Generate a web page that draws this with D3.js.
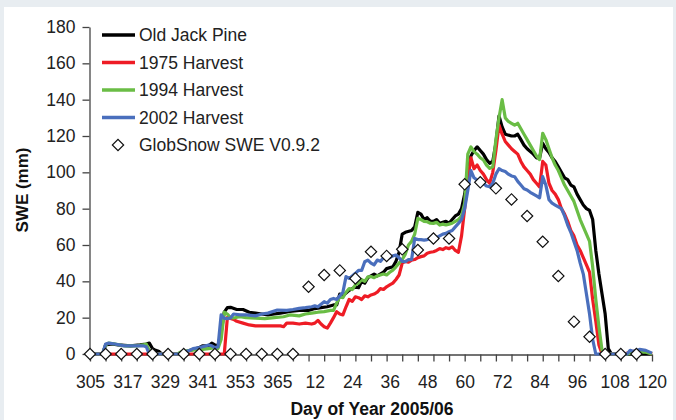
<!DOCTYPE html>
<html>
<head>
<meta charset="utf-8">
<script src="https://cdn.jsdelivr.net/npm/d3@7"></script>
<style>
  html, body { margin:0; padding:0; background:#e8edf1; }
  svg { display:block; }
</style>
</head>
<body>
<div id="chart"></div>
<script>
// SWE at four jack pine stands vs GlobSnow, winter 2005/06

const xTickDays = [305,317,329,341,353,365,12,24,36,48,60,72,84,96,108,120];
const yTicks = [0,20,40,60,80,100,120,140,160,180];

// [day of year, SWE mm]
const oldJackPine = [[305,0],[309,0],[310,5],[312,5.5],[314,5],[318,4.5],[321,5],[323,5.5],[324,6],[325,3],[326,2],[327,1.5],[328,0],[334,0],[336,1.5],[338,2.5],[340,3.5],[341,4.5],[343,4.5],[344,6],[345,5],[346,4.5],[347,12],[348,23],[349,25.5],[350,25.7],[352,24.5],[354,24.5],[356,23],[358,22.5],[360,22],[362,21.5],[364,22],[1,22.5],[4,23.5],[7,24],[10,24],[12,25],[14,25.5],[16,26],[18,27],[19,27],[20,33],[21,32],[23,35],[25,37],[26,36.5],[27,40],[28,39],[29,42],[31,44],[32,43],[34,45],[35,47],[37,48],[38,51],[39,56],[40,66],[41,67],[43,68],[44,70],[45,78],[46,77],[47,74],[48,75],[49,73],[50,73],[51,74],[52,72],[54,73],[55,72],[56,74],[57,76],[58,77],[59,80],[60,88],[61,100],[62,109],[63,112],[64,114],[65,112],[66,110],[67,107],[68,105],[69,106],[70,116],[71,131],[72,125],[73,121],[75,120],[76,120],[77,121],[78,118],[79,115],[80,113],[82,110],[83,108],[84,108],[85,116],[86,113],[87,111],[88,108],[89,106],[90,103],[91,100],[92,97],[93,96],[94,93],[95,92],[96,88],[97,85],[98,82],[99,80],[100,79],[101,74],[102,57],[103,44],[104,33],[105,22],[106,3],[107,0],[120,0]];

const harvest1975 = [[305,0],[348,0],[349,20],[350,19.5],[351,19],[352,18],[354,17],[356,16],[358,15.5],[361,15.5],[364,15.5],[1,15.5],[2,15],[3,17],[5,17],[7,16.5],[9,17],[11,16.5],[12,17],[13,18.5],[14,16.5],[15,15],[16,14.3],[17,17],[18,20],[19,23.3],[20,22],[21,21.5],[22,26],[23,30],[24,29],[25,31.5],[26,31],[27,30],[28,32],[29,31.5],[30,32.5],[31,33],[32,34],[33,36],[34,35.5],[35,37],[36,38],[37,39],[38,41],[39,43.5],[40,50],[41,51],[42,50.5],[43,51.7],[44,52],[45,53],[46,53.6],[47,54],[48,55.5],[49,56],[50,56.3],[51,57],[52,58],[53,57.5],[54,58.5],[55,58],[56,59],[57,57],[58,56],[59,65],[60,80],[61,96],[62,108],[63,102],[64,104],[65,101],[66,99],[67,96],[68,94],[69,100],[70,112],[71,126],[72,121],[73,117],[74,115],[75,113],[76,111.5],[77,110],[78,106],[79,103],[80,101],[81,99],[82,96],[83,94],[84,92],[85,106],[86,104],[87,94],[88,90],[89,88],[90,85],[91,80],[92,77],[93,73],[94,68],[95,65],[96,60],[97,57],[98,53],[99,49],[100,45],[101,30],[102,18],[103,5],[104,0],[111,0],[113,1],[116,2],[118,1.5],[120,0]];

const harvest1994 = [[305,0],[309,0],[310,5],[311,6],[313,5.5],[316,4.5],[320,4.5],[322,5],[323,5.5],[324,2],[325,0],[333,0],[334,1],[337,2],[341,2.5],[343,3],[345,3.5],[346,3],[347,8],[348,23],[349,22],[350,20],[351,19.8],[353,20.5],[355,20],[358,19.8],[361,19.5],[364,20],[2,20.5],[4,21.5],[7,21],[9,22],[11,22.5],[13,23],[15,23.3],[17,24],[18,24],[19,28],[20,31.5],[21,31],[22,34],[23,36],[24,35.5],[25,38],[26,39],[27,41],[28,40],[29,42.5],[30,42.6],[31,42],[32,43],[33,43.5],[34,44],[35,43.5],[36,45],[37,46.2],[38,48],[39,50],[40,52],[41,55],[42,60],[43,62],[44,66],[45,74.6],[46,74],[47,73],[48,72.8],[49,72],[50,71.9],[51,72.5],[52,71],[53,71.5],[54,71],[55,71.5],[56,72],[57,73],[58,74],[59,76],[60,83],[61,110],[62,114],[63,111.4],[64,110],[65,108],[66,106.8],[67,104],[68,102.2],[69,103],[70,118],[71,130],[72,140],[73,130],[74,128],[75,127],[76,126],[77,127],[78,124],[79,121],[80,118],[81,115],[82,112],[83,109],[84,107],[85,121.5],[86,118],[87,113],[88,108],[89,104],[90,101],[91,97],[92,93],[93,90],[94,87],[95,84],[96,79],[97,74],[98,70],[99,66],[100,62],[101,48],[102,30],[103,15],[104,2],[105,0],[112,0],[115,1],[118,1],[120,0]];

const harvest2002 = [[305,0],[309,0],[310,5.5],[311,6],[313,5.5],[316,4.5],[320,4.5],[322,4.5],[323,4],[324,0],[334,0],[335,1],[337,2],[338,3],[340,3.5],[341,4],[343,5],[344,4.5],[345,3.5],[346,4],[347,21.5],[348,19.6],[349,19.5],[350,19.8],[351,22],[353,21.5],[355,21.5],[358,21],[360,22],[362,22.5],[365,24.2],[3,24],[5,24.5],[7,25.1],[9,25.5],[11,26],[12,26.5],[13,26],[15,28.8],[16,28],[17,30],[18,30.6],[19,30],[20,32],[21,34],[22,42.6],[23,41.6],[24,43],[25,44.4],[26,46],[27,46],[28,50.8],[29,51.7],[30,50],[31,49],[32,51.7],[33,51],[34,53],[35,53.6],[36,53],[37,54],[38,54.5],[39,53],[40,51],[41,50.8],[42,52],[43,52],[44,63.6],[45,63],[46,63],[47,62.7],[48,63],[49,63.5],[50,64.6],[51,64],[52,65],[53,66],[54,66.4],[55,67.3],[56,68],[57,70],[58,71.9],[59,74],[60,80],[61,90],[62,101],[63,97],[64,95.8],[65,94],[66,93.9],[67,92.5],[68,92.1],[69,94],[70,99],[71,102],[72,101],[73,100.4],[74,99],[75,98],[76,97.6],[77,95],[78,93],[79,91],[80,90.3],[81,89],[82,88],[83,87],[84,86],[85,97.6],[86,93],[87,85],[88,83],[89,82],[90,81],[91,80],[92,76],[93,71],[94,67],[95,62],[96,57],[97,50],[98,44],[99,33],[100,22],[101,8],[102,0],[112,0],[113,2],[114,1.5],[116,2.5],[118,2],[120,0.5]];

const globDays = [305,310,315,320,325,330,335,340,345,350,355,360,365,5,10,15,20,25,30,35,40,45,50,55,60,65,70,75,80,85,90,95,100,105,110,115];
const globSwe  = [0,0,0,0,0,0,0,0,0,0,0,0,0,0,37,43.5,46,41.6,56.3,54,57.6,57.2,63.6,63.6,93.4,94.5,91.2,85.1,76,61.8,42.9,17.8,9.5,0,0,0];

const SERIES = [
  { label:"Old Jack Pine",  data:oldJackPine, color:"#000000" },
  { label:"1975 Harvest",   data:harvest1975, color:"#ee1c25" },
  { label:"1994 Harvest",   data:harvest1994, color:"#6abd45" },
  { label:"2002 Harvest",   data:harvest2002, color:"#4a6fbd" },
];

const FONT = "'Liberation Sans', Arial, sans-serif";
const AXIS = "#444";
const FS = "17.5px";

// days since 1 Nov 2005 (doy 305)
const seasonDay = d => d >= 305 ? d - 305 : d + 60;

const W = 676, H = 420;
const svg = d3.select("#chart").append("svg").attr("width",W).attr("height",H);

// white chart panel over the grey page
svg.append("rect").attr("x",4).attr("y",7).attr("width",669).attr("height",413).attr("fill","#fff");

const x = d3.scaleLinear().domain([0,180]).range([90,652]);
const y = d3.scaleLinear().domain([0,180]).range([354,27]);

// y axis
svg.append("g").attr("transform","translate(89.5,0)")
  .call(d3.axisLeft(y).tickValues(yTicks).tickSizeInner(7).tickSizeOuter(0).tickPadding(7))
  .call(a=>a.selectAll("path,line").attr("stroke",AXIS).attr("stroke-width",1.3))
  .call(a=>a.selectAll("text").attr("fill","#222").style("font-family",FONT).style("font-size",FS));

// x axis: minor ticks every 5 days
svg.append("g").attr("transform","translate(0,354.5)")
  .call(d3.axisBottom(x).tickValues(d3.range(0,181,5)).tickSizeInner(7).tickSizeOuter(0).tickFormat(""))
  .call(a=>a.selectAll("path,line").attr("stroke",AXIS).attr("stroke-width",1.3));

// x labels every 12 days
svg.append("g").attr("transform","translate(0,354.5)")
  .call(d3.axisBottom(x).tickValues(xTickDays.map(seasonDay)).tickSize(0).tickPadding(21)
    .tickFormat((d,i)=>xTickDays[i]))
  .call(a=>a.select(".domain").remove())
  .call(a=>a.selectAll("text").attr("fill","#222").style("font-family",FONT).style("font-size",FS));

// axis titles
svg.append("text").attr("transform","translate(28,190) rotate(-90)")
  .attr("text-anchor","middle").attr("fill","#111")
  .style("font-family",FONT).style("font-size","17px").style("font-weight","bold")
  .text("SWE (mm)");

svg.append("text").attr("x",372).attr("y",415)
  .attr("text-anchor","middle").attr("fill","#111")
  .style("font-family",FONT).style("font-size","17.5px").style("font-weight","bold")
  .text("Day of Year 2005/06");

// series lines
const line = d3.line().x(d=>x(seasonDay(d[0]))).y(d=>y(d[1]));
svg.append("g").selectAll("path").data(SERIES).join("path")
  .attr("d",d=>line(d.data))
  .attr("fill","none").attr("stroke",d=>d.color).attr("stroke-width",3.2)
  .attr("stroke-linejoin","round");

// GlobSnow diamonds
const diamond = d3.symbol().type(d3.symbolSquare).size(64);
svg.append("g").selectAll("path").data(globDays.map((d,i)=>[d,globSwe[i]])).join("path")
  .attr("d",diamond)
  .attr("transform",d=>`translate(${x(seasonDay(d[0]))},${y(d[1])}) rotate(45)`)
  .attr("fill","#fff").attr("stroke","#111").attr("stroke-width",1.2);

// legend
const lg = svg.append("g");
SERIES.forEach((s,i)=>{
  const ly = 35 + i*27.5;
  lg.append("line").attr("x1",102).attr("x2",135).attr("y1",ly).attr("y2",ly)
    .attr("stroke",s.color).attr("stroke-width",3.5);
  lg.append("text").attr("x",139).attr("y",ly+6).attr("fill","#222")
    .style("font-family",FONT).style("font-size",FS).text(s.label);
});
lg.append("path").attr("d",diamond)
  .attr("transform","translate(118,145) rotate(45)")
  .attr("fill","#fff").attr("stroke","#111").attr("stroke-width",1.2);
lg.append("text").attr("x",139).attr("y",151).attr("fill","#222")
  .style("font-family",FONT).style("font-size",FS).text("GlobSnow SWE V0.9.2");
</script>
</body>
</html>
